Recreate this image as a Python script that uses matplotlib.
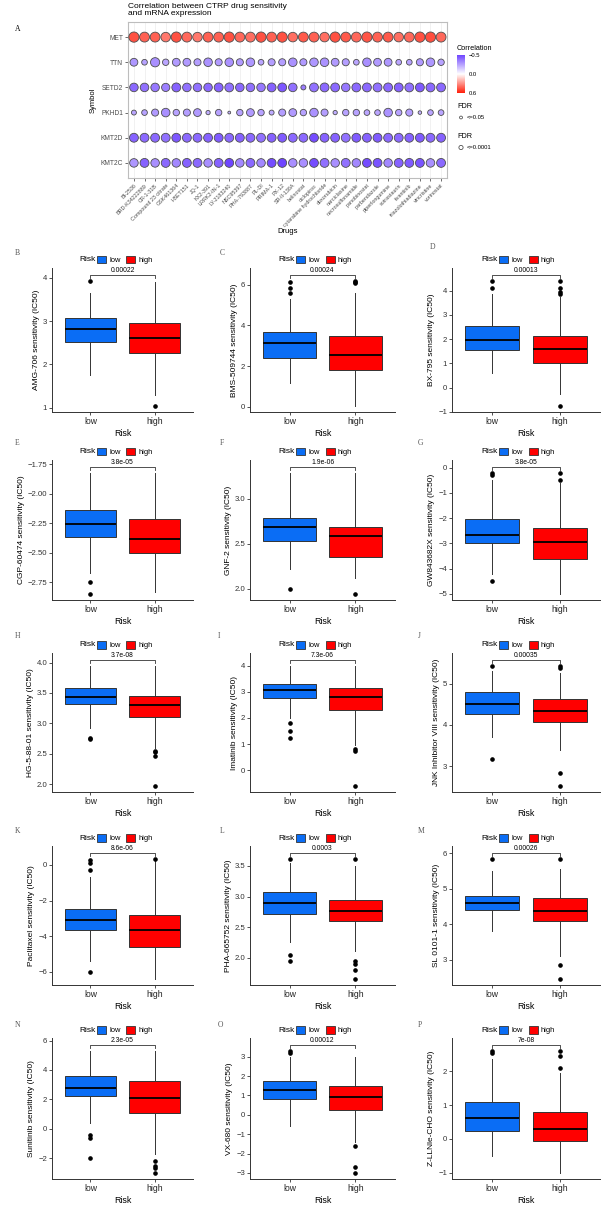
import numpy as np
import matplotlib
matplotlib.use("Agg")
import matplotlib.pyplot as plt
from matplotlib.colors import LinearSegmentedColormap, TwoSlopeNorm
from matplotlib.patches import Patch
from matplotlib.ticker import MultipleLocator

plt.rcParams['font.family'] = ['Liberation Sans', 'DejaVu Sans']

# ---------------- panel A: bubble plot data ----------------
genes = ["MET", "TTN", "SETD2", "PKHD1", "KMT2D", "KMT2C"]
drugs = ["BI-2536", "BRD-K34222889", "CR-1-31B", "Compound 23 citrate",
         "GSK461364", "I-BET151", "JQ-1", "KX2-391", "LRRK2-IN-1",
         "LY-2183240", "NSC95397", "PHA-793887", "PL-DI", "PRIMA-1", "PX-12",
         "SR-II-138A", "belinostat", "ciclopirox", "cytarabine hydrochloride",
         "doxorubicin", "narciclasine", "necrosulfonamide", "panobinostat",
         "parbendazole", "piperlongumine", "sotrastaurin", "tivantinib",
         "triazolothiadiazine", "vincristine", "vorinostat"]

# correlation per gene (one value per drug)
corr_met = [0.46, 0.42, 0.42, 0.36, 0.46, 0.40, 0.36, 0.42, 0.42, 0.46,
            0.40, 0.38, 0.46, 0.42, 0.46, 0.38, 0.44, 0.42, 0.38, 0.46,
            0.44, 0.40, 0.45, 0.42, 0.44, 0.38, 0.40, 0.46, 0.47, 0.40]
corr_ttn = [-0.28, -0.25, -0.30, -0.24, -0.27, -0.27, -0.26, -0.29, -0.27, -0.29,
            -0.27, -0.28, -0.24, -0.26, -0.26, -0.29, -0.27, -0.28, -0.29, -0.27,
            -0.26, -0.24, -0.30, -0.27, -0.28, -0.24, -0.25, -0.27, -0.28, -0.25]
corr_setd2 = [-0.40, -0.38, -0.36, -0.34, -0.42, -0.38, -0.38, -0.40, -0.42, -0.38,
              -0.40, -0.38, -0.36, -0.42, -0.45, -0.38, -0.35, -0.38, -0.40, -0.40,
              -0.36, -0.40, -0.40, -0.38, -0.40, -0.42, -0.38, -0.44, -0.40, -0.40]
corr_pkhd1 = [-0.24, -0.25, -0.27, -0.30, -0.25, -0.26, -0.27, -0.22, -0.25, -0.20,
              -0.25, -0.27, -0.25, -0.23, -0.26, -0.27, -0.25, -0.29, -0.26, -0.22,
              -0.25, -0.25, -0.24, -0.24, -0.29, -0.25, -0.26, -0.21, -0.24, -0.24]
corr_kmt2d = [-0.42, -0.40, -0.40, -0.38, -0.45, -0.40, -0.40, -0.42, -0.44, -0.40,
              -0.42, -0.40, -0.38, -0.42, -0.44, -0.40, -0.40, -0.48, -0.42, -0.42,
              -0.38, -0.44, -0.42, -0.44, -0.40, -0.40, -0.42, -0.44, -0.40, -0.42]
corr_kmt2c = [-0.28, -0.42, -0.30, -0.40, -0.32, -0.42, -0.40, -0.30, -0.42, -0.50,
              -0.32, -0.40, -0.32, -0.48, -0.50, -0.30, -0.30, -0.48, -0.38, -0.30,
              -0.38, -0.32, -0.48, -0.46, -0.32, -0.42, -0.44, -0.46, -0.30, -0.40]

# -log10(FDR) per gene, drives the bubble size
sig_met = [12.0, 11.5, 11.5, 11.0, 12.0, 11.5, 11.0, 11.5, 11.5, 12.0,
           11.5, 11.5, 12.0, 11.5, 12.0, 11.0, 11.5, 11.5, 11.0, 12.0,
           11.5, 11.5, 12.0, 11.5, 11.5, 11.0, 11.5, 12.0, 12.0, 11.5]
sig_ttn = [8.4, 5.2, 10.5, 6.3, 8.4, 8.4, 7.3, 9.5, 7.3, 9.5,
           7.3, 9.5, 5.2, 7.3, 7.3, 9.5, 7.3, 9.5, 9.5, 8.4,
           7.3, 5.2, 9.5, 8.4, 8.4, 5.2, 5.2, 7.3, 9.5, 6.3]
sig_setd2 = [9.5, 9.5, 9.5, 9.0, 10.0, 9.5, 9.5, 9.5, 10.0, 10.0,
             9.5, 9.5, 9.5, 10.0, 10.0, 9.5, 4.2, 10.0, 10.0, 10.0,
             9.5, 10.0, 10.0, 10.0, 10.0, 10.0, 10.0, 10.0, 10.0, 10.0]
sig_pkhd1 = [4.1, 5.2, 7.3, 9.5, 6.3, 7.3, 8.4, 3.1, 6.3, 0.9,
             6.3, 8.4, 6.3, 4.1, 7.3, 8.4, 6.3, 9.5, 7.3, 3.1,
             6.3, 6.3, 5.2, 5.2, 9.5, 6.3, 7.3, 2.0, 5.2, 5.2]
sig_kmt2d = [10.0, 10.0, 10.0, 10.0, 10.0, 10.0, 10.0, 10.0, 10.0, 10.0,
             10.0, 10.0, 10.0, 10.0, 10.0, 10.0, 10.0, 10.0, 10.0, 10.0,
             10.0, 10.0, 10.0, 10.0, 10.0, 10.0, 10.0, 10.0, 10.0, 10.0]
sig_kmt2c = [9.5, 10.0, 9.5, 10.0, 9.5, 10.0, 10.0, 9.5, 10.0, 10.0,
             9.5, 10.0, 9.5, 10.0, 10.0, 9.5, 9.5, 10.0, 10.0, 9.5,
             10.0, 9.5, 10.0, 10.0, 9.5, 10.0, 10.0, 10.0, 9.5, 10.0]

# ---------------- boxplot panels B-P ----------------
panel_letters = list("BCDEFGHIJKLMNOP")
box_drugs = ["AMG-706", "BMS-509744", "BX-795", "CGP-60474", "GNF-2",
             "GW843682X", "HG-5-88-01", "Imatinib", "JNK Inhibitor VIII",
             "Paclitaxel", "PHA-665752", "SL 0101-1", "Sunitinib", "VX-680",
             "Z-LLNle-CHO"]
p_labels = ["0.00022", "0.00024", "0.00013", "3.8e-05", "1.9e-06", "3.8e-05",
            "3.7e-08", "7.3e-06", "0.00035", "8.6e-06", "0.0003", "0.00026",
            "2.3e-05", "0.00012", "7e-08"]
y_tick_step = [1, 2, 1, 0.25, 0.5, 1, 0.5, 1, 1, 2, 0.5, 1, 2, 1, 1]

# low risk group: q1, median, q3, lower whisker, upper whisker, outliers
low_q1 = [2.52, 2.42, 1.55, -2.37, 2.53, -3.0, 3.32, 2.75, 4.27, -3.65, 2.72, 4.40, 2.2, 0.80, 0.25]
low_med = [2.82, 3.15, 1.95, -2.255, 2.68, -2.65, 3.44, 3.05, 4.50, -3.10, 2.90, 4.60, 2.8, 1.30, 0.62]
low_q3 = [3.08, 3.70, 2.55, -2.14, 2.79, -2.05, 3.58, 3.30, 4.80, -2.45, 3.07, 4.80, 3.6, 1.75, 1.10]
low_lo = [1.75, 1.15, 0.62, -2.67, 2.22, -4.2, 2.93, 2.00, 3.72, -5.4, 2.25, 3.80, 0.4, -0.6, -0.5]
low_hi = [3.65, 5.30, 3.85, -1.82, 3.29, -0.5, 3.95, 4.00, 5.30, -0.7, 3.55, 5.50, 5.3, 3.00, 2.35]
low_fliers = [[3.92], [5.6, 5.85, 6.15], [4.1, 4.4], [-2.75, -2.85], [2.0],
              [-0.2, -0.3, -4.5], [2.75, 2.76], [1.8, 1.5, 1.25], [3.17, 5.42],
              [0.3, 0.1, -0.3, -6.0], [2.05, 1.95, 3.62], [5.85],
              [-0.4, -0.6, -2.0], [3.2, 3.3], [2.55, 2.6]]

high_q1 = [2.27, 1.80, 1.00, -2.50, 2.35, -3.6, 3.10, 2.30, 4.07, -4.60, 2.60, 4.10, 1.1, 0.25, -0.05]
high_med = [2.62, 2.57, 1.60, -2.38, 2.58, -2.95, 3.30, 2.80, 4.35, -3.65, 2.77, 4.38, 2.1, 0.90, 0.30]
high_q3 = [2.95, 3.48, 2.15, -2.21, 2.68, -2.4, 3.45, 3.15, 4.63, -2.80, 2.95, 4.75, 3.25, 1.50, 0.80]
high_lo = [1.30, 0.05, -0.28, -2.83, 2.12, -5.0, 2.60, 0.95, 3.40, -6.4, 2.10, 3.10, -1.7, -1.4, -1.0]
high_hi = [3.90, 5.60, 3.75, -1.82, 3.29, -0.6, 3.95, 4.00, 5.25, 0.2, 3.50, 5.55, 5.3, 3.00, 1.95]
high_fliers = [[1.05], [6.08, 6.13, 6.18], [-0.75, 3.85, 3.95, 4.1, 4.4], [], [1.94],
               [-0.2, -0.5], [2.55, 2.53, 2.46, 1.97], [0.8, 0.75, -0.6],
               [2.83, 2.52, 5.38, 5.44], [0.35], [1.95, 1.9, 1.8, 1.65, 3.62],
               [2.85, 2.45, 5.85], [-2.2, -2.5, -2.7, -3.0], [-1.6, -2.7, -3.0],
               [2.1, 2.45, 2.6]]

groups = ["low", "high"]
group_colors = ["#0A6DF5", "#FF0000"]

W, H = 603, 1228
fig = plt.figure(figsize=(W / 100, H / 100), dpi=100)


def add_ax(left, top, right, bottom):
    return fig.add_axes([left / W, 1 - bottom / H, (right - left) / W, (bottom - top) / H])


def bubble_size(sig):
    d_pt = 1.6 + 0.48 * np.asarray(sig)
    return d_pt ** 2


# ---------------- panel A ----------------
corr_rows = [corr_met, corr_ttn, corr_setd2, corr_pkhd1, corr_kmt2d, corr_kmt2c]
sig_rows = [sig_met, sig_ttn, sig_setd2, sig_pkhd1, sig_kmt2d, sig_kmt2c]

cmap = LinearSegmentedColormap.from_list("corr", ["#6F45FF", "#FFFFFF", "#FF1E0A"])
norm = TwoSlopeNorm(vmin=-0.5, vcenter=0.0, vmax=0.6)

axA = add_ax(128, 22, 447, 178)
xs, ys, cs, ss = [], [], [], []
for gi, (cr, sg) in enumerate(zip(corr_rows, sig_rows)):
    for di in range(len(drugs)):
        xs.append(di)
        ys.append(gi)
        cs.append(cr[di])
        ss.append(sg[di])
axA.scatter(xs, ys, s=bubble_size(ss), c=cs, cmap=cmap, norm=norm,
            edgecolors="#4D4D4D", linewidths=0.6, zorder=3)
axA.set_xlim(-0.56, len(drugs) - 0.44)
axA.set_ylim(len(genes) - 0.4, -0.6)
axA.set_xticks(range(len(drugs)))
axA.set_xticklabels(drugs, rotation=45, ha="right", rotation_mode="anchor",
                    fontsize=3.9, color="#4D4D4D")
axA.set_yticks(range(len(genes)))
axA.set_yticklabels(genes, fontsize=4.8, color="#4D4D4D")
axA.tick_params(length=2, width=0.5, color="#333333", pad=1.5)
axA.grid(axis="x", color="#EBEBEB", linewidth=0.5, zorder=0)
for sp in axA.spines.values():
    sp.set_color("#BDBDBD")
    sp.set_linewidth(0.8)
axA.set_xlabel("Drugs", fontsize=5.5, labelpad=0)
axA.set_ylabel("Symbol", fontsize=5.5, labelpad=3)
fig.text(128 / W, 1 - 3 / H, "Correlation between CTRP drug sensitivity\nand mRNA expression",
         fontsize=6.0, va="top", ha="left", linespacing=1.05)
fig.text(15 / W, 1 - 29 / H, "A", family="Liberation Serif", fontsize=5.5,
         va="center", ha="left")

# colour bar legend
fig.text(457 / W, 1 - 49 / H, "Correlation", fontsize=5.2, va="center", ha="left")
cax = add_ax(457, 55, 465, 93)
cb = fig.colorbar(matplotlib.cm.ScalarMappable(norm=norm, cmap=cmap), cax=cax)
cb.outline.set_visible(False)
cax.invert_yaxis()
cb.set_ticks([-0.5, 0.0, 0.6])
cb.set_ticklabels(["\u22120.5", "0.0", "0.6"])
cax.tick_params(labelsize=4.2, length=1.5, width=0.4, color="white", pad=1)

# FDR size legends
fdr_labels = ["<=0.05", "<=0.0001"]
fdr_sig = [1.0, 3.0]
for k, (lab, sg) in enumerate(zip(fdr_labels, fdr_sig)):
    ty = 107 + 30 * k
    fig.text(457 / W, 1 - ty / H, "FDR", fontsize=5.2, va="center", ha="left")
    lax = add_ax(456, ty + 5, 500, ty + 16)
    lax.set_axis_off()
    lax.set_xlim(0, 44)
    lax.set_ylim(0, 11)
    lax.scatter([5], [5.5], s=bubble_size([sg]), facecolors="none",
                edgecolors="#333333", linewidths=0.5)
    lax.text(11, 5.5, lab, fontsize=4.2, va="center", ha="left")

# ---------------- boxplot panels ----------------
col_bounds = [(52, 193), (250, 395), (452, 600)]
row_bounds = [(268, 412), (460, 600), (653, 792), (846, 985), (1038, 1179)]
letter_pos = [(15, 253), (220, 253), (430, 247),
              (15, 443), (220, 443), (418, 443),
              (15, 636), (218, 636), (418, 636),
              (15, 831), (220, 831), (418, 831),
              (15, 1025), (218, 1025), (418, 1025)]

for i, name in enumerate(box_drugs):
    r, c = divmod(i, 3)
    left, right = col_bounds[c]
    top, bottom = row_bounds[r]
    ax = add_ax(left, top, right, bottom)

    stats = []
    for q1, med, q3, lo, hi, fl in [
            (low_q1[i], low_med[i], low_q3[i], low_lo[i], low_hi[i], low_fliers[i]),
            (high_q1[i], high_med[i], high_q3[i], high_lo[i], high_hi[i], high_fliers[i])]:
        stats.append(dict(q1=q1, med=med, q3=q3, whislo=lo, whishi=hi, fliers=fl))
    bp = ax.bxp(stats, positions=[1, 2], widths=0.8, patch_artist=True,
                showcaps=False,
                medianprops=dict(color="black", linewidth=1.3),
                whiskerprops=dict(color="#333333", linewidth=0.7),
                boxprops=dict(edgecolor="#333333", linewidth=0.7),
                flierprops=dict(marker="o", markersize=2.3, markerfacecolor="black",
                                markeredgecolor="black", linestyle="none"))
    for patch, col in zip(bp["boxes"], group_colors):
        patch.set_facecolor(col)

    all_vals = [low_lo[i], low_hi[i], high_lo[i], high_hi[i]] + low_fliers[i] + high_fliers[i]
    vmin, vmax = min(all_vals), max(all_vals)
    rng = vmax - vmin
    yb = vmax + 0.05 * rng
    ax.plot([1, 1, 2, 2], [yb - 0.025 * rng, yb, yb, yb - 0.025 * rng],
            color="#333333", linewidth=0.6)
    ax.text(1.5, yb + 0.006 * rng, p_labels[i], fontsize=4.9, ha="center", va="bottom")
    ax.set_ylim(vmin - 0.05 * rng, yb + 0.055 * rng)
    ax.set_xlim(0.4, 2.6)
    ax.yaxis.set_major_locator(MultipleLocator(y_tick_step[i]))
    ax.set_xticks([1, 2])
    ax.set_xticklabels(groups)
    for sp in ["top", "right"]:
        ax.spines[sp].set_visible(False)
    for sp in ["left", "bottom"]:
        ax.spines[sp].set_linewidth(0.7)
        ax.spines[sp].set_color("#333333")
    ax.tick_params(labelsize=5.6, length=2, width=0.6, pad=1.5, colors="#333333")
    ax.tick_params(axis="x", labelsize=6.2, labelcolor="#222222")
    ax.set_xlabel("Risk", fontsize=6.4, labelpad=2)
    ax.set_ylabel(name + " sensitivity (IC50)", fontsize=6.0, labelpad=2)

    # legend strip above each panel
    ly = 1 + 8 / (bottom - top)
    ax.text(0.31, ly, "Risk", transform=ax.transAxes, fontsize=6.0,
            ha="right", va="center")
    handles = [Patch(facecolor=col, edgecolor="#333333", linewidth=0.6) for col in group_colors]
    ax.legend(handles, groups, loc="center left", bbox_to_anchor=(0.32, ly),
              ncol=2, frameon=False, fontsize=5.4, handlelength=1.2, handleheight=1.2,
              handletextpad=0.4, columnspacing=0.8, borderpad=0, borderaxespad=0)

    lx, lyy = letter_pos[i]
    fig.text(lx / W, 1 - lyy / H, panel_letters[i], family="Liberation Serif",
             fontsize=5.5, color="#555555", va="center", ha="left")

fig.savefig("out.png", dpi=100)
